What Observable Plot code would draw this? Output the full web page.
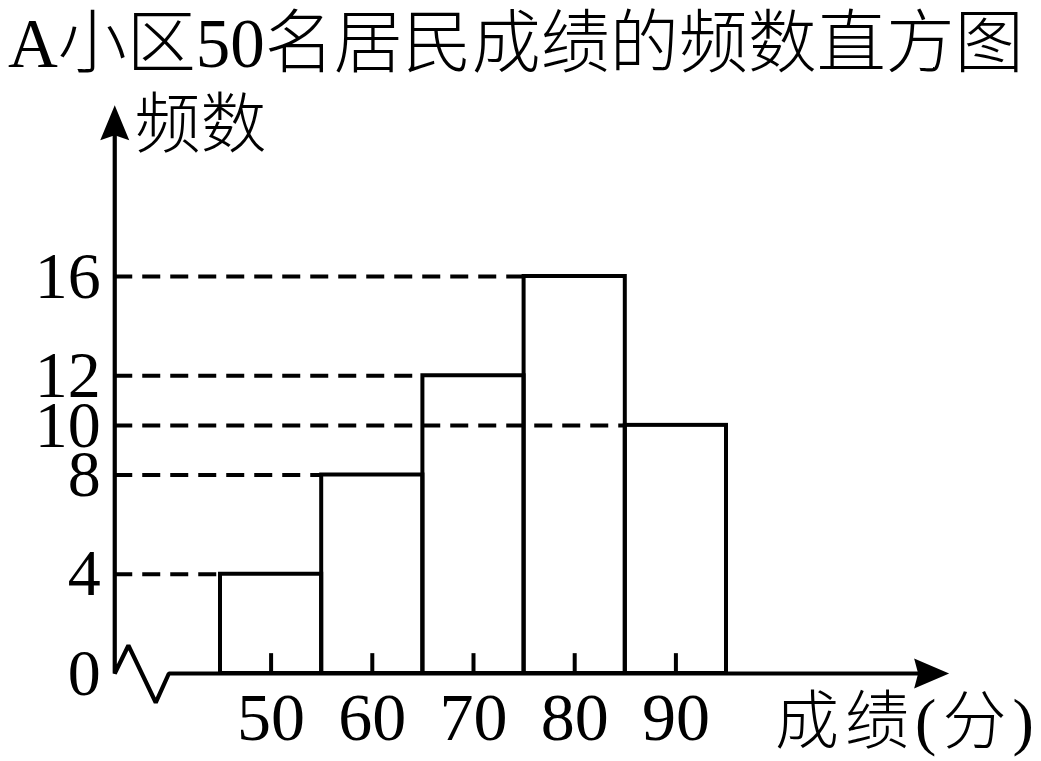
<!DOCTYPE html>
<html>
<head>
<meta charset="utf-8">
<script src="https://cdn.jsdelivr.net/npm/d3@7"></script>
<script src="https://cdn.jsdelivr.net/npm/@observablehq/plot@0.6"></script>
<style>
  html, body { margin: 0; padding: 0; background: #fff; overflow: hidden; }
  #title {
    height: 80px; line-height: 66px; padding-left: 8px; padding-top: 4px; box-sizing: border-box;
    font-family: "Liberation Serif", "Noto Sans CJK SC", serif; font-size: 69px; font-weight: 400; color: #000; white-space: nowrap;
  }
  #title span { display: inline-block; line-height: 66px; }
  #title .cjk { font-weight: 300; font-family: "Noto Sans CJK SC", sans-serif; }
  #title .latin { font-weight: 400; font-family: "Liberation Serif", serif; }
  .xlabel text { letter-spacing: 6px; }
  .cjk text { font-weight: 300; }
</style>
</head>
<body>
<div id="title"></div>
<div id="chart"></div>
<script>
// ---- data ----
const titleText = "A小区50名居民成绩的频数直方图";
const yLabel = "频数";
const xLabel = "成绩(分)";
const binStart = [45, 55, 65, 75, 85];
const binEnd = [55, 65, 75, 85, 95];
const counts = [4, 8, 12, 16, 10];
const xTickValues = [50, 60, 70, 80, 90];
const yTickValues = [0, 4, 8, 10, 12, 16];

// axis geometry in data units (broken axis with zigzag)
const axisX = 34.55;      // x value where the vertical axis sits
const yAxisTop = 22.9;    // arrow tip of vertical axis
const xAxisEnd = 117;     // arrow tip of horizontal axis
const zigX = [35.9, 38.6, 39.9];
const zigY = [1.13, -1.17, 0];
const tickLen = 0.8;

// title: Latin runs in serif, CJK runs in lighter CJK face
const titleEl = document.getElementById("title");
titleText.match(/[A-Za-z0-9]+|[^A-Za-z0-9]+/g).forEach(run => {
  const span = document.createElement("span");
  span.textContent = run;
  span.className = /^[A-Za-z0-9]+$/.test(run) ? "latin" : "cjk";
  titleEl.appendChild(span);
});

const bars = binStart.map((s, i) => ({x1: s, x2: binEnd[i], count: counts[i]}));
const axisPath = [[axisX, yAxisTop - 0.8], [axisX, 0]]
  .concat(zigX.map((x, i) => [x, zigY[i]]))
  .concat([[xAxisEnd - 1, 0]]);

const arrowUp = {draw(ctx) { ctx.moveTo(0, 0); ctx.lineTo(14.5, 35); ctx.lineTo(0, 30); ctx.lineTo(-14.5, 35); ctx.closePath(); }};
const arrowRight = {draw(ctx) { ctx.moveTo(0, 0); ctx.lineTo(-35, -15); ctx.lineTo(-31, 0); ctx.lineTo(-35, 15); ctx.closePath(); }};

const font = "'Liberation Serif', 'Noto Sans CJK SC', serif";

const chart = Plot.plot({
  width: 1041,
  height: 681,
  margin: 0,
  x: {domain: [45, 95], range: [220, 726], axis: null},
  y: {domain: [0, 16], range: [593, 196], axis: null},
  style: {fontFamily: font, background: "white", overflow: "visible"},
  marks: [
    // dashed guide lines from axis to each bar's left edge
    Plot.ruleY(bars, {y: "count", x1: axisX, x2: "x1", stroke: "black", strokeWidth: 4, strokeDasharray: "18,10"}),
    // histogram bars
    Plot.rectY(bars, {x1: "x1", x2: "x2", y: "count", fill: "none", stroke: "black", strokeWidth: 4}),
    // axes with break zigzag
    Plot.line(axisPath, {x: d => d[0], y: d => d[1], stroke: "black", strokeWidth: 4.2, strokeLinejoin: "miter", strokeLinecap: "butt"}),
    Plot.dot([[axisX, yAxisTop]], {x: d => d[0], y: d => d[1], symbol: arrowUp, fill: "black", r: 5}),
    Plot.dot([[xAxisEnd, 0]], {x: d => d[0], y: d => d[1], symbol: arrowRight, fill: "black", r: 5}),
    // x ticks
    Plot.ruleX(xTickValues, {x: d => d, y1: 0, y2: tickLen, stroke: "black", strokeWidth: 4}),
    // tick labels
    Plot.text(xTickValues, {x: d => d, y: 0, dy: 45, text: d => String(d), fontSize: 68, fill: "black"}),
    Plot.text(yTickValues, {x: axisX, y: d => d, dx: -14, text: d => String(d), textAnchor: "end", fontSize: 66, fill: "black"}),
    // axis labels
    Plot.text([yLabel], {x: 36.5, y: 22.09, text: d => d, textAnchor: "start", fontSize: 66, fill: "black", className: "cjk"}),
    Plot.text([xLabel], {x: 99.8, y: -1.98, text: d => d, textAnchor: "start", fontSize: 64, fill: "black", className: "xlabel cjk"})
  ]
});
document.getElementById("chart").appendChild(chart);
</script>
</body>
</html>
